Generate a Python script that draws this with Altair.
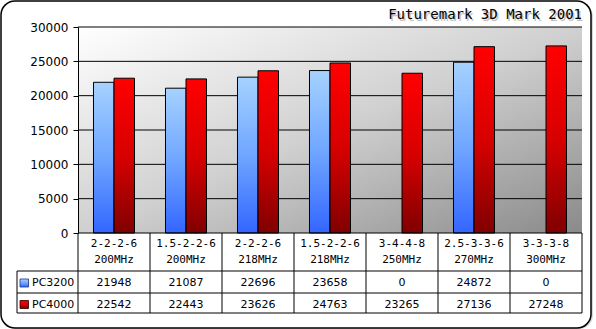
import altair as alt
import pandas as pd

timings = ["2-2-2-6", "1.5-2-2-6", "2-2-2-6", "1.5-2-2-6", "3-4-4-8", "2.5-3-3-6", "3-3-3-8"]
freqs = ["200MHz", "200MHz", "218MHz", "218MHz", "250MHz", "270MHz", "300MHz"]
pc3200 = [21948, 21087, 22696, 23658, 0, 24872, 0]
pc4000 = [22542, 22443, 23626, 24763, 23265, 27136, 27248]
series = ["PC3200", "PC4000"]
y_ticks = [0, 5000, 10000, 15000, 20000, 25000, 30000]
title_text = "Futuremark 3D Mark 2001"

cats = [f"{t} {f}" for t, f in zip(timings, freqs)]
wide = pd.DataFrame({"cat": cats, "timing": timings, "freq": freqs,
                     "PC3200": pc3200, "PC4000": pc4000})
long = wide.melt(id_vars=["cat"], value_vars=series, var_name="series", value_name="value")
grid_df = pd.DataFrame({"value": y_ticks[1:]})
one = pd.DataFrame({"a": [0]})

W, H = 504, 206

blue_grad = alt.LinearGradient(gradient="linear", x1=0, y1=0, x2=0, y2=1,
                               stops=[alt.GradientStop(color="#a6d2ff", offset=0),
                                      alt.GradientStop(color="#6fa6ff", offset=0.5),
                                      alt.GradientStop(color="#3366ff", offset=1)])
red_grad = alt.LinearGradient(gradient="linear", x1=0, y1=0, x2=0, y2=1,
                              stops=[alt.GradientStop(color="#ff0000", offset=0),
                                     alt.GradientStop(color="#d80000", offset=0.5),
                                     alt.GradientStop(color="#800000", offset=1)])
bg_grad = alt.LinearGradient(gradient="linear", x1=0, y1=0, x2=1, y2=1,
                             stops=[alt.GradientStop(color="#ffffff", offset=0),
                                    alt.GradientStop(color="#d0d0d0", offset=0.5),
                                    alt.GradientStop(color="#8a8a8a", offset=1)])

xenc = alt.X("cat:N", sort=cats, scale=alt.Scale(paddingInner=0, paddingOuter=0), axis=None)
yaxis = alt.Axis(values=y_ticks, grid=False, domainColor="black", tickColor="black",
                 labelColor="black", labelFont="DejaVu Sans", labelFontSize=12,
                 tickSize=5, labelPadding=5, title=None, zindex=1, format="d")
yenc = alt.Y("value:Q", scale=alt.Scale(domain=[0, 30000]), axis=yaxis)

shadow = alt.Chart(one).mark_rect(cornerRadius=14, color="#bbbbbb", opacity=0.6).encode(
    x=alt.value(-75), x2=alt.value(W + 11), y=alt.value(-24), y2=alt.value(H + 96))
frame = alt.Chart(one).mark_rect(cornerRadius=14, fill="white", stroke="black", strokeWidth=1.5).encode(
    x=alt.value(-77), x2=alt.value(W + 9), y=alt.value(-26), y2=alt.value(H + 95))
plotbg = alt.Chart(one).mark_rect(color=bg_grad).encode(
    x=alt.value(0), x2=alt.value(W), y=alt.value(0), y2=alt.value(H))
grid = alt.Chart(grid_df).mark_rule(color="black", strokeWidth=1).encode(y=yenc)

xoff = alt.XOffset("series:N", scale=alt.Scale(domain=series, paddingOuter=0.756, paddingInner=0))
bars_b = alt.Chart(long).transform_filter(
    (alt.datum.series == "PC3200") & (alt.datum.value > 0)
).mark_bar(color=blue_grad, stroke="black", strokeWidth=1).encode(x=xenc, xOffset=xoff, y=yenc)
bars_r = alt.Chart(long).transform_filter(
    (alt.datum.series == "PC4000") & (alt.datum.value > 0)
).mark_bar(color=red_grad, stroke="black", strokeWidth=1).encode(x=xenc, xOffset=xoff, y=yenc)

# table lines
hl0 = alt.Chart(one).mark_rule(color="black").encode(
    x=alt.value(0), x2=alt.value(W), y=alt.value(H))
hlines = [alt.Chart(one).mark_rule(color="black").encode(
    x=alt.value(-61), x2=alt.value(W), y=alt.value(yy)) for yy in (H + 38, H + 60, H + 80)]
vlines = alt.Chart(wide).mark_rule(color="black").encode(
    x=alt.X("cat:N", sort=cats, bandPosition=0, scale=alt.Scale(paddingInner=0, paddingOuter=0), axis=None),
    y=alt.value(H), y2=alt.value(H + 80))
vright = alt.Chart(one).mark_rule(color="black").encode(
    x=alt.value(W), y=alt.value(H), y2=alt.value(H + 80))
vleft = alt.Chart(one).mark_rule(color="black").encode(
    x=alt.value(-61), y=alt.value(H + 38), y2=alt.value(H + 80))

mono = dict(font="DejaVu Sans Mono", fontSize=11, color="black", baseline="middle", align="center")
sans = dict(font="DejaVu Sans", fontSize=11, color="black", baseline="middle", align="center")
t_timing = alt.Chart(wide).mark_text(**mono).encode(x=xenc, y=alt.value(H + 11), text="timing:N")
t_freq = alt.Chart(wide).mark_text(**mono).encode(x=xenc, y=alt.value(H + 27), text="freq:N")
t_b = alt.Chart(wide).mark_text(**sans).encode(x=xenc, y=alt.value(H + 50),
                                                text=alt.Text("PC3200:Q", format="d"))
t_r = alt.Chart(wide).mark_text(**sans).encode(x=xenc, y=alt.value(H + 71.5),
                                                text=alt.Text("PC4000:Q", format="d"))

leg_b = alt.Chart(one).mark_rect(color=blue_grad, stroke="#203080", strokeWidth=0.8).encode(
    x=alt.value(-58), x2=alt.value(-49.5), y=alt.value(H + 46), y2=alt.value(H + 54))
leg_r = alt.Chart(one).mark_rect(color=red_grad, stroke="#300000", strokeWidth=0.8).encode(
    x=alt.value(-58), x2=alt.value(-49.5), y=alt.value(H + 67.5), y2=alt.value(H + 75.5))
legt_b = alt.Chart(one).mark_text(font="DejaVu Sans", fontSize=11, color="black", baseline="middle",
                                  align="left", text=series[0]).encode(x=alt.value(-46), y=alt.value(H + 50))
legt_r = alt.Chart(one).mark_text(font="DejaVu Sans", fontSize=11, color="black", baseline="middle",
                                  align="left", text=series[1]).encode(x=alt.value(-46), y=alt.value(H + 71.5))

title_sh = alt.Chart(one).mark_text(font="DejaVu Sans Mono", fontSize=14, color="#999999", opacity=0.6,
                                    align="right", baseline="middle", text=title_text).encode(
    x=alt.value(W + 1.5), y=alt.value(-10.5))
title = alt.Chart(one).mark_text(font="DejaVu Sans Mono", fontSize=14, color="black",
                                 align="right", baseline="middle", text=title_text).encode(
    x=alt.value(W), y=alt.value(-12))

chart = alt.layer(
    shadow, frame, plotbg, grid, bars_b, bars_r, hl0, *hlines, vlines, vright, vleft,
    t_timing, t_freq, t_b, t_r, leg_b, leg_r, legt_b, legt_r, title_sh, title
).properties(
    width=W, height=H,
    autosize=alt.AutoSizeParams(type="none"),
    padding={"left": 78, "top": 27, "right": 14, "bottom": 96},
    background="white",
).configure_view(strokeWidth=0)

chart.save("out.html", embed_options={"renderer": "svg", "actions": False})
